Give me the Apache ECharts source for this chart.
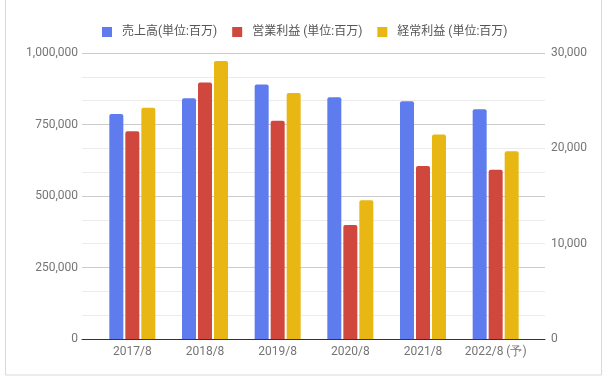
<!DOCTYPE html>
<html><head><meta charset="utf-8">
<script src="https://cdn.jsdelivr.net/npm/echarts@6/dist/echarts.min.js"></script>
<style>html,body{margin:0;padding:0;background:#fff}#c{width:613px;height:381px}</style>
</head><body><div id="c"></div>
<script>
const categories = ['2017/8','2018/8','2019/8','2020/8','2021/8','2022/8 (予)'];
const sales = [787000, 842000, 890000, 845000, 831000, 803000];
const opProfit = [21800, 26900, 22900, 11950, 18150, 17750];
const ordProfit = [24250, 29150, 25800, 14550, 21450, 19700];
const leftTicks = [0, 250000, 500000, 750000, 1000000];
const rightTicks = [0, 10000, 20000, 30000];
const seriesNames = ['売上高(単位:百万)', '営業利益 (単位:百万)', '経常利益 (単位:百万)'];
const colors = ['#5f7cee', '#d0473e', '#e8b713'];

const chart = echarts.init(document.getElementById('c'));
const fmt = v => v.toLocaleString('en-US');
const labelStyle = {color: '#757575', fontSize: 12, fontFamily: 'Roboto'};
chart.setOption({
  animation: false,
  color: colors,
  graphic: [{type: 'rect', shape: {x: 5.5, y: -1, width: 596, height: 376}, style: {fill: 'none', stroke: '#d9d9d9', lineWidth: 1}, silent: true, z: -1}],
  legend: {
    left: 97, top: 21, itemWidth: 10, itemHeight: 10, itemGap: 15, icon: 'rect',
    textStyle: {color: '#555', fontSize: 12, fontFamily: 'Roboto, "Noto Sans CJK JP"', padding: [0, 0, 0, 5]},
    data: seriesNames
  },
  grid: [
    {left: 82, right: 68, top: 53, bottom: 42},
    {left: 96, right: 81, top: 53, bottom: 42}
  ],
  xAxis: [
    {type: 'value', gridIndex: 0, min: 0, max: 1, show: true,
     axisLine: {show: true, onZero: false, lineStyle: {color: '#333', width: 1}},
     axisTick: {show: false}, axisLabel: {show: false}, splitLine: {show: false}},
    {type: 'category', gridIndex: 1, data: categories,
     axisLine: {show: false}, axisTick: {show: false},
     axisLabel: Object.assign({margin: 7, interval: 0}, labelStyle)}
  ],
  yAxis: [
    {type: 'value', gridIndex: 0, min: leftTicks[0], max: leftTicks[leftTicks.length-1], interval: 250000,
     axisLine: {show: false}, axisTick: {show: false},
     axisLabel: Object.assign({margin: 4, formatter: fmt}, labelStyle),
     splitLine: {show: true, lineStyle: {color: '#cccccc'}},
     minorTick: {show: false, splitNumber: 3},
     minorSplitLine: {show: true, lineStyle: {color: '#ebebeb'}}},
    {type: 'value', gridIndex: 0, position: 'right', min: rightTicks[0], max: rightTicks[rightTicks.length-1], interval: 10000,
     axisLine: {show: false}, axisTick: {show: false},
     axisLabel: Object.assign({margin: 6, formatter: fmt}, labelStyle),
     splitLine: {show: false}},
    {type: 'value', gridIndex: 1, min: 0, max: 1000000, show: false},
    {type: 'value', gridIndex: 1, min: 0, max: 30000, show: false}
  ],
  series: [
    {name: seriesNames[0], type: 'bar', xAxisIndex: 1, yAxisIndex: 2, data: sales,
     barWidth: 14, barGap: '14.3%', itemStyle: {borderRadius: [2,2,0,0]}},
    {name: seriesNames[1], type: 'bar', xAxisIndex: 1, yAxisIndex: 3, data: opProfit,
     barWidth: 14, barGap: '14.3%', itemStyle: {borderRadius: [2,2,0,0]}},
    {name: seriesNames[2], type: 'bar', xAxisIndex: 1, yAxisIndex: 3, data: ordProfit,
     barWidth: 14, barGap: '14.3%', itemStyle: {borderRadius: [2,2,0,0]}}
  ]
});
</script></body></html>
